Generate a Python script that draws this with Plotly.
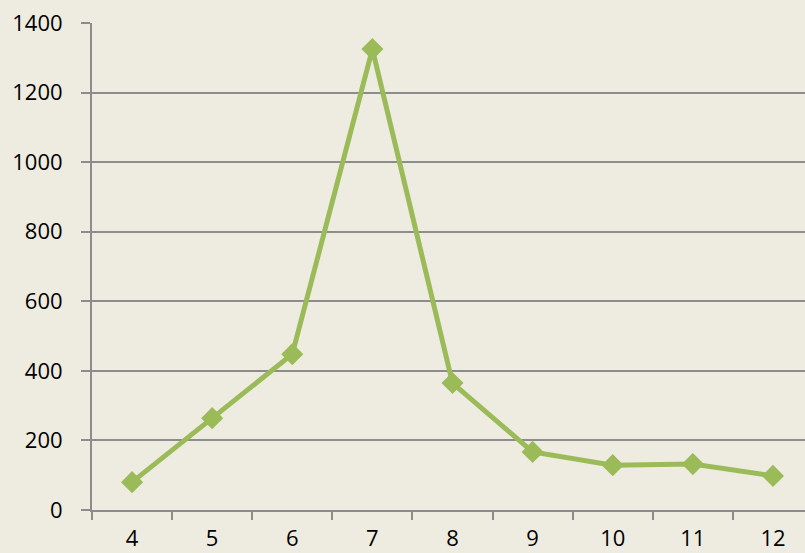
import plotly.graph_objects as go

categories = [4, 5, 6, 7, 8, 9, 10, 11, 12]
values = [80, 264, 448, 1325, 365, 167, 129, 132, 98]
y_ticks = [0, 200, 400, 600, 800, 1000, 1200, 1400]

bg = "#EEECE1"
grid = "#8C8C8C"
green = "#9BBB59"
font = dict(family="Open Sans, Liberation Sans, sans-serif", size=22, color="#000000")

fig = go.Figure()
fig.add_trace(go.Scatter(
    x=categories, y=values, mode="lines+markers",
    line=dict(color=green, width=5),
    marker=dict(symbol="diamond", size=17, color=green),
    showlegend=False,
))

fig.update_layout(
    width=805, height=553,
    paper_bgcolor=bg, plot_bgcolor=bg,
    margin=dict(l=92, r=0, t=23, b=43),
    font=font,
)
fig.update_xaxes(
    range=[3.5, 12.4], tickvals=categories, ticktext=[str(c) for c in categories],
    ticks="", showgrid=False, zeroline=False, automargin=False,
    showline=True, linecolor=grid, linewidth=2,
    ticklabelstandoff=8, tickfont=font,
    minor=dict(ticks="outside", tick0=3.5, dtick=1, ticklen=8, tickcolor=grid, tickwidth=2, showgrid=False),
)
fig.update_yaxes(
    range=[0, 1400], tickvals=y_ticks, automargin=False,
    ticks="outside", ticklen=9, tickcolor=grid, tickwidth=2,
    showgrid=True, gridcolor=grid, gridwidth=2, zeroline=False,
    showline=True, linecolor=grid, linewidth=2,
    ticklabelstandoff=14, tickfont=font,
)
fig.write_html(
    "out.html",
    config={"displayModeBar": False},
    post_script="document.body.style.margin='0';document.body.style.background='#EEECE1';",
)
